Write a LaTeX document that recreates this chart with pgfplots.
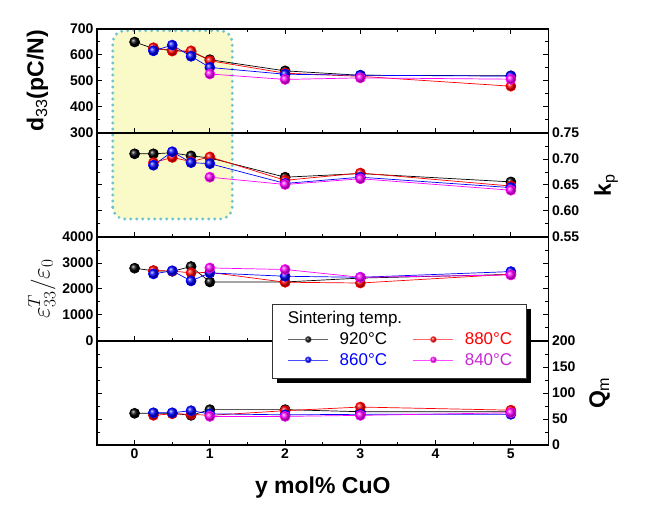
\documentclass[border=0pt]{standalone}
\usepackage{pgfplots}
\pgfplotsset{compat=1.18}
\usepackage{fontspec}
\setmainfont{Liberation Sans}
\definecolor{hly}{RGB}{250,250,200}
\definecolor{hlb}{RGB}{110,195,205}
\definecolor{mag}{RGB}{255,0,255}
\definecolor{magtxt}{RGB}{200,40,210}
\pgfplotsset{
  panel/.style={
    scale only axis, width=451.5pt, height=104pt,
    xmin=-0.5, xmax=5.5, xtick={0,1,2,3,4,5}, minor x tick num=1,
    minor y tick num=1, tick align=inside,
    major tick length=5pt, minor tick length=3pt,
    every tick/.style={black, line width=1pt},
    axis line style={line width=1.3pt},
    tick label style={font=\bfseries\fontsize{14}{16}\selectfont},
    ylabel style={font=\bfseries\fontsize{23}{26}\selectfont},
    xlabel style={font=\bfseries\fontsize{23}{26}\selectfont, yshift=-12pt},
    scaled ticks=false, clip=false,
  },
  s920/.style={black, line width=0.7pt, mark=ball, mark size=5pt, mark options={ball color=black}},
  s880/.style={red, line width=0.7pt, mark=ball, mark size=5pt, mark options={ball color=red}},
  s860/.style={blue, line width=0.7pt, mark=ball, mark size=5pt, mark options={ball color=blue}},
  s840/.style={mag, line width=0.7pt, mark=ball, mark size=5pt, mark options={ball color=mag}},
}
\begin{document}
\begin{tikzpicture}
\useasboundingbox (-97pt,-75pt) rectangle (549pt,445pt);
% highlighted region
\fill[hly, rounded corners=12pt] (15.7pt,226pt) rectangle (135.3pt,414.3pt);
\draw[hlb, line width=3.2pt, dash pattern=on 0pt off 6pt, line cap=round, rounded corners=12pt] (15.7pt,226pt) rectangle (135.3pt,414.3pt);

% Panel 1: d33
\begin{axis}[panel, at={(0pt,312pt)}, anchor=south west,
  ymin=300, ymax=700, ytick={300,400,500,600,700}, yticklabels={300,400,500,600,700},
  yticklabel pos=left, ytick pos=both, xtick pos=both, xticklabels={},
  ylabel={d\textsubscript{\mdseries 33}(pC/N)}, ylabel shift=15pt]
\addplot[s920] coordinates {(0,650)(0.25,625)(0.5,618)(0.75,612)(1,582)(2,539)(3,522)(5,520)};
\addplot[s880] coordinates {(0.25,628)(0.5,615)(0.75,616)(1,578)(2,530)(3,518)(5,480)};
\addplot[s860] coordinates {(0.25,616)(0.5,638)(0.75,595)(1,552)(2,526)(3,522)(5,519)};
\addplot[s840] coordinates {(1,527)(2,506)(3,512)(5,507)};
\end{axis}

% Panel 2: kp
\begin{axis}[panel, at={(0pt,208pt)}, anchor=south west,
  ymin=0.55, ymax=0.75, ytick={0.55,0.60,0.65,0.70,0.75}, yticklabels={0.55,0.60,0.65,0.70,0.75},
  yticklabel pos=right, ytick pos=both, xtick pos=left, xticklabels={},
  ylabel={k\textsubscript{\mdseries p}}, ylabel shift=8pt]
\addplot[s920] coordinates {(0,0.710)(0.25,0.710)(0.5,0.712)(0.75,0.706)(1,0.702)(2,0.665)(3,0.672)(5,0.656)};
\addplot[s880] coordinates {(0.25,0.693)(0.5,0.703)(0.75,0.695)(1,0.704)(2,0.659)(3,0.673)(5,0.648)};
\addplot[s860] coordinates {(0.25,0.688)(0.5,0.714)(0.75,0.693)(1,0.691)(2,0.653)(3,0.665)(5,0.645)};
\addplot[s840] coordinates {(1,0.665)(2,0.651)(3,0.662)(5,0.640)};
\end{axis}

% Panel 3: permittivity
\begin{axis}[panel, at={(0pt,104pt)}, anchor=south west,
  ymin=0, ymax=4000, ytick={0,1000,2000,3000,4000}, yticklabels={0,1000,2000,3000,4000},
  yticklabel pos=left, ytick pos=both, xtick pos=left, xticklabels={},
  ylabel={$\varepsilon^{T}_{33}/\varepsilon_{0}$}, ylabel style={font=\fontsize{25}{28}\selectfont}]
\addplot[s920] coordinates {(0,2800)(0.25,2700)(0.5,2680)(0.75,2865)(1,2270)(2,2270)(3,2420)(5,2560)};
\addplot[s880] coordinates {(0.25,2710)(0.5,2690)(0.75,2620)(1,2640)(2,2260)(3,2230)(5,2570)};
\addplot[s860] coordinates {(0.25,2580)(0.5,2700)(0.75,2310)(1,2620)(2,2490)(3,2450)(5,2670)};
\addplot[s840] coordinates {(1,2810)(2,2750)(3,2450)(5,2540)};
\end{axis}

% Panel 4: Qm
\begin{axis}[panel, at={(0pt,0pt)}, anchor=south west,
  ymin=0, ymax=200, ytick={0,50,100,150,200}, yticklabels={0,50,100,150,200},
  yticklabel pos=right, ytick pos=both, xtick pos=left,
  xticklabels={0,1,2,3,4,5},
  ylabel={Q\textsubscript{\mdseries m}}, ylabel shift=7pt, xlabel={y mol\% CuO}]
\addplot[s920] coordinates {(0,61)(0.25,61)(0.5,61)(0.75,57)(1,68)(2,68)(3,64)(5,64)};
\addplot[s880] coordinates {(0.25,57)(0.5,60)(0.75,59)(1,57)(2,66)(3,73)(5,67)};
\addplot[s860] coordinates {(0.25,62)(0.5,62)(0.75,66)(1,60)(2,58)(3,59)(5,59)};
\addplot[s840] coordinates {(1,55)(2,55)(3,57)(5,62)};
\end{axis}

% legend box
\fill[black] (180.3pt,61.7pt) rectangle (434pt,135.7pt);
\filldraw[fill=white, draw=black!80, line width=0.8pt] (175.3pt,66.7pt) rectangle (429pt,140.7pt);
\node[anchor=base west, inner sep=0pt, font=\fontsize{17}{19}\selectfont] at (190.7pt,121.7pt) {Sintering temp.};

\begin{axis}[scale only axis, width=451.5pt, height=104pt, at={(0pt,0pt)}, anchor=south west,
  hide axis, xmin=0, xmax=1, ymin=0, ymax=1,
  legend columns=2,
  legend cell align=left,
  legend style={at={(0.4225,1.10)}, anchor=north west, draw=none, fill=none,
    font=\fontsize{17}{19}\selectfont, inner sep=0pt, row sep=3pt,
    /tikz/every odd column/.append style={column sep=9pt},
    /tikz/every even column/.append style={column sep=24pt}},
  legend image code/.code={\draw[mark repeat=2, mark phase=2, #1] plot coordinates {(0pt,0pt) (20pt,0pt) (40pt,0pt)};}]
\addlegendimage{black!60, line width=0.7pt, mark=ball, mark size=3pt, mark options={ball color=black}}
\addlegendentry{920°C}
\addlegendimage{red!60, line width=0.7pt, mark=ball, mark size=3pt, mark options={ball color=red}}
\addlegendentry{\textcolor{red}{880°C}}
\addlegendimage{blue!70, line width=0.7pt, mark=ball, mark size=3pt, mark options={ball color=blue}}
\addlegendentry{\textcolor{blue}{860°C}}
\addlegendimage{mag!70, line width=0.7pt, mark=ball, mark size=3pt, mark options={ball color=mag}}
\addlegendentry{\textcolor{magtxt}{840°C}}
\end{axis}
\end{tikzpicture}
\end{document}
